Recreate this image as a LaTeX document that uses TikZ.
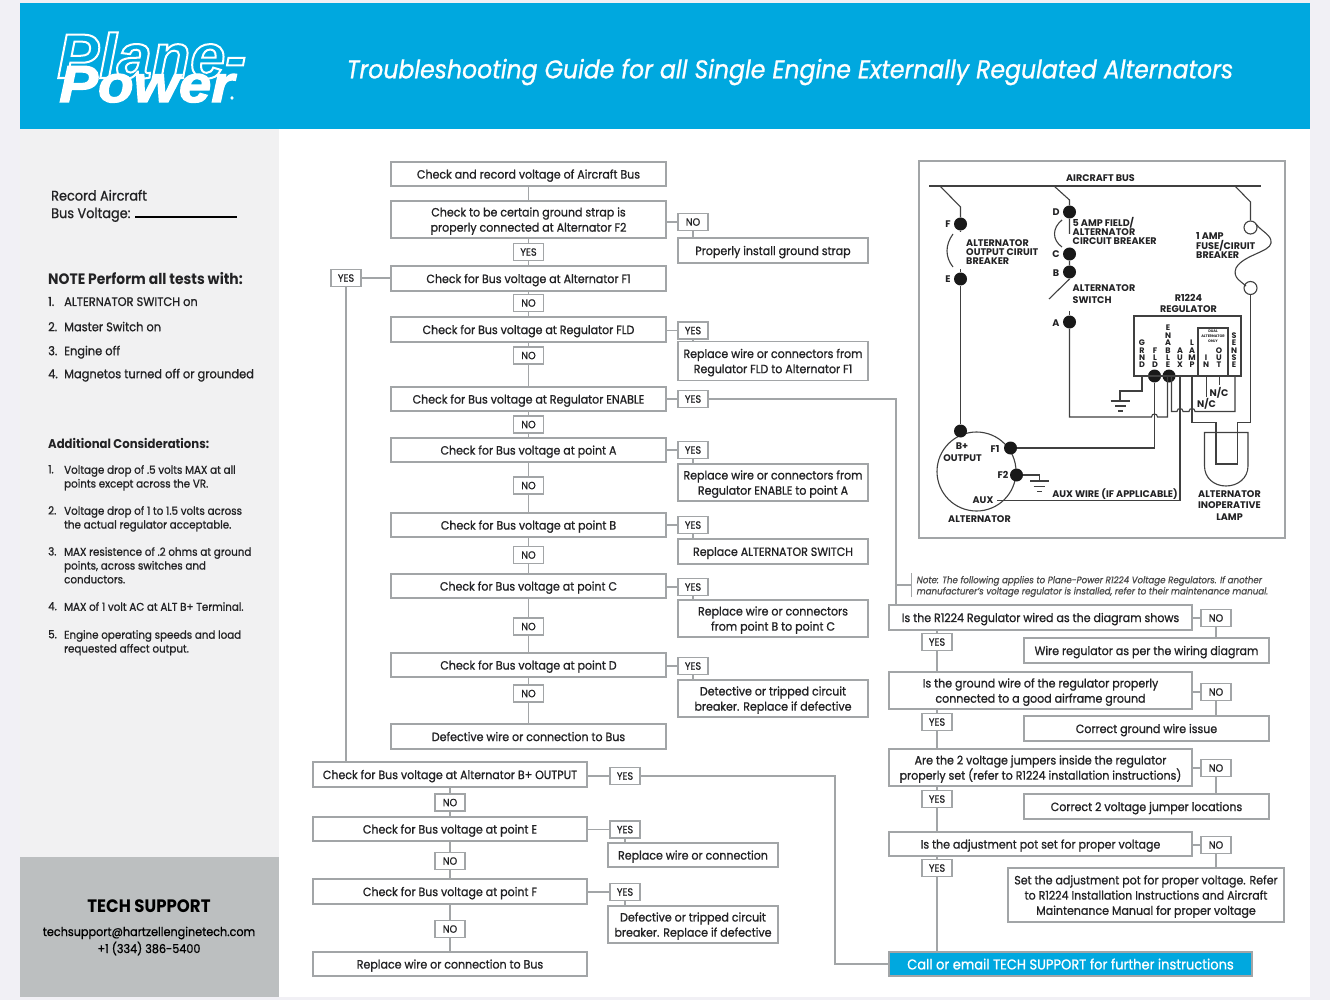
\documentclass[tikz,border=0pt]{standalone}
\usepackage{fontspec}
\setmainfont{Poppins}[FakeStretch=0.92,UprightFeatures={FakeBold=0.9},ItalicFeatures={FakeBold=0.9}]
\newfontfamily\wirefont{Poppins}
\newfontfamily\logofont{Liberation Sans}
\newfontfamily\logoheavy{Liberation Sans}[BoldItalicFeatures={FakeBold=2.6,FakeStretch=1.12}]
\definecolor{planeblue}{HTML}{00A8DF}
\definecolor{pagegray}{HTML}{F1F0F5}
\definecolor{sidegray}{HTML}{F1F1F2}
\definecolor{supportgray}{HTML}{BCBFC0}
\definecolor{boxline}{HTML}{A2A5A7}
\definecolor{inkdark}{HTML}{222224}
\tikzset{
  flowbox/.style={draw=boxline, line width=1.5pt, fill=white, align=center, inner sep=0pt, text depth=-0.5pt,
                  text=inkdark, font=\fontsize{12}{15.2}\selectfont},
  colA/.style={flowbox, minimum width=275pt},
  colB/.style={flowbox, minimum width=274pt},
  colC/.style={flowbox, minimum width=303pt},
  fixbox/.style={flowbox, minimum width=190pt},
  fixboxB/.style={flowbox, minimum width=170pt},
  fixboxC/.style={flowbox, minimum width=245pt},
  tagbox/.style={flowbox, minimum width=30pt, minimum height=17pt, text depth=0pt, font=\fontsize{10.5}{12}\selectfont},
  flowline/.style={draw=boxline, line width=1.5pt},
  sidetext/.style={anchor=west, align=left, inner sep=0pt, text=inkdark, text depth=0pt,
                   font=\fontsize{12.4}{17}\selectfont},
  smalltext/.style={anchor=north west, align=left, inner sep=0pt, text=inkdark,
                   font=\fontsize{11.2}{13.8}\selectfont},
  wire/.style={draw=black!75, line width=1.1pt},
  wdot/.style={circle, fill=black!90, minimum size=13pt, inner sep=0pt},
  wlabel/.style={inner sep=0pt, align=left, text=inkdark, font=\wirefont\bfseries\fontsize{9.6}{9.1}\selectfont},
  wletters/.style={inner sep=0pt, align=center, anchor=south, text=inkdark, font=\wirefont\bfseries\fontsize{8}{7.4}\selectfont},
}
\begin{document}
\begin{tikzpicture}[x=1pt, y=-1pt]
\useasboundingbox (0,0) rectangle (1330,1000);
%% page and header
\fill[pagegray] (0,0) rectangle (1330,1000);
\fill[white] (20,3) rectangle (1310,997);
\fill[planeblue] (20,3) rectangle (1310,129);
\fill[sidegray] (20,129) rectangle (279,857);
\fill[supportgray] (20,857) rectangle (279,997);
\node[anchor=base west, inner sep=0pt, font=\logofont\bfseries\itshape\fontsize{63}{63}\selectfont] (logoplane) at (57,78)
  {\special{pdf:code q 1 Tr 2 w 1 1 1 RG}Plane-\special{pdf:code Q}};
\node[anchor=base west, inner sep=0pt, text=white, font=\logoheavy\bfseries\itshape\fontsize{52}{52}\selectfont] (logopower) at (59,102) {Power};
\node[text=white, inner sep=0pt, font=\fontsize{7}{7}\selectfont] (logoreg) at (232,99) {®};
\node[text=white, inner sep=0pt, font=\itshape\fontsize{25.6}{30}\selectfont] (title) at (790,72)
  {Troubleshooting Guide for all Single Engine Externally Regulated Alternators};

%% sidebar
\node[sidetext, font=\fontsize{14}{17.5}\selectfont] (record) at (51,204) {Record Aircraft\\Bus Voltage:};
\draw[black, line width=1.1pt] (135,217) -- (237,217);
\node[sidetext, font=\bfseries\fontsize{15.1}{16}\selectfont] (note) at (48,278) {NOTE Perform all tests with:};
\node[sidetext] (n1) at (48,301.5) {\makebox[16pt][l]{1.}ALTERNATOR SWITCH on};
\node[sidetext] (n2) at (48,326.5) {\makebox[16pt][l]{2.}Master Switch on};
\node[sidetext] (n3) at (48,350.5) {\makebox[16pt][l]{3.}Engine off};
\node[sidetext] (n4) at (48,373.5) {\makebox[16pt][l]{4.}Magnetos turned off or grounded};
\node[sidetext, font=\bfseries\fontsize{12.7}{14}\selectfont] (addl) at (48,443) {Additional Considerations:};
\foreach \y/\n/\txt in {465/1/{Voltage drop of .5 volts MAX at all\\points except across the VR.},
    506/2/{Voltage drop of 1 to 1.5 volts across\\the actual regulator acceptable.},
    547/3/{MAX resistence of .2 ohms at ground\\points, across switches and\\conductors.},
    602/4/{MAX of 1 volt AC at ALT B+ Terminal.},
    630/5/{Engine operating speeds and load\\requested affect output.}} {
  \node[smalltext] (addnum\n) at (48,\y) {\n.};
  \node[smalltext] (addtxt\n) at (64,\y) {\txt};
}
\node[inner sep=0pt, text=black, font=\bfseries\fontsize{18}{20}\selectfont] (support) at (149,906) {TECH SUPPORT};
\node[inner sep=0pt, align=center, text=black, font=\fontsize{12.2}{17}\selectfont] (contact) at (149,941)
  {techsupport@hartzellenginetech.com\\+1 (334) 386-5400};

%% first column
\node[colA, minimum height=24pt] (a1) at (528.5,174) {Check and record voltage of Aircraft Bus};
\node[colA, minimum height=37pt] (a2) at (528.5,219.5) {Check to be certain ground strap is\\properly connected at Alternator F2};
\node[tagbox] (a2y) at (528.5,252) {YES};
\node[colA, minimum height=25pt] (a3) at (528.5,278.5) {Check for Bus voltage at Alternator F1};
\node[tagbox] (a3n) at (528.5,303) {NO};
\node[colA, minimum height=25pt] (a4) at (528.5,329.5) {Check for Bus voltage at Regulator FLD};
\node[tagbox] (a4n) at (528.5,355.5) {NO};
\node[colA, minimum height=24pt] (a5) at (528.5,399) {Check for Bus voltage at Regulator ENABLE};
\node[tagbox] (a5n) at (528.5,424.5) {NO};
\node[colA, minimum height=24pt] (a6) at (528.5,450) {Check for Bus voltage at point A};
\node[tagbox] (a6n) at (528.5,485.5) {NO};
\node[colA, minimum height=24pt] (a7) at (528.5,525) {Check for Bus voltage at point B};
\node[tagbox] (a7n) at (528.5,555) {NO};
\node[colA, minimum height=24pt] (a8) at (528.5,586) {Check for Bus voltage at point C};
\node[tagbox] (a8n) at (528.5,626.5) {NO};
\node[colA, minimum height=24pt] (a9) at (528.5,665) {Check for Bus voltage at point D};
\node[tagbox] (a9n) at (528.5,693.5) {NO};
\node[colA, minimum height=25pt] (a10) at (528.5,736.5) {Defective wire or connection to Bus};
\foreach \p/\q in {a1/a2,a2/a2y,a2y/a3,a3/a3n,a3n/a4,a4/a4n,a4n/a5,a5/a5n,a5n/a6,a6/a6n,a6n/a7,a7/a7n,a7n/a8,a8/a8n,a8n/a9,a9/a9n,a9n/a10} {
  \draw[flowline] (\p) -- (\q);
}
%% replies of first column
\node[tagbox] (r2) at (693,222) {NO};
\node[fixbox, minimum height=25pt] (f2) at (773,250.5) {Properly install ground strap};
\node[tagbox] (r4) at (693,330.5) {YES};
\node[fixbox, minimum height=39pt] (f4) at (773,361) {Replace wire or connectors from\\Regulator FLD to Alternator F1};
\node[tagbox] (r5) at (693,399) {YES};
\node[tagbox] (r6) at (693,450) {YES};
\node[fixbox, minimum height=37pt] (f6) at (773,482.5) {Replace wire or connectors from\\Regulator ENABLE to point A};
\node[tagbox] (r7) at (693,525) {YES};
\node[fixbox, minimum height=25pt] (f7) at (773,551.5) {Replace ALTERNATOR SWITCH};
\node[tagbox] (r8) at (693,587) {YES};
\node[fixbox, minimum height=37pt] (f8) at (773,618.5) {Replace wire or connectors\\from point B to point C};
\node[tagbox] (r9) at (693,666) {YES};
\node[fixbox, minimum height=37pt] (f9) at (773,698.5) {Detective or tripped circuit\\breaker. Replace if defective};
\foreach \t/\b in {r2/a2,r4/a4,r5/a5,r6/a6,r7/a7,r8/a8,r9/a9} {
  \draw[flowline] (\t.west) -- (\t.west -| \b.east);
}
\foreach \t/\f in {r2/f2,r4/f4,r6/f6,r7/f7,r8/f8,r9/f9} {
  \draw[flowline] (\t.south) -- (\t.south |- \f.north);
}
\node[tagbox] (r3) at (346,278) {YES};
\draw[flowline] (r3.east) -- (r3.east -| a3.west);

%% second column
\node[colB, minimum height=25pt] (b1) at (450,774.5) {Check for Bus voltage at Alternator B+ OUTPUT};
\node[tagbox] (b1n) at (450,802.5) {NO};
\node[colB, minimum height=24pt] (b2) at (450,829) {Check for Bus voltage at point E};
\node[tagbox] (b2n) at (450,861) {NO};
\node[colB, minimum height=25pt] (b3) at (450,891.5) {Check for Bus voltage at point F};
\node[tagbox] (b3n) at (450,929) {NO};
\node[colB, minimum height=24pt] (b4) at (450,964) {Replace wire or connection to Bus};
\foreach \p/\q in {b1/b1n,b1n/b2,b2/b2n,b2n/b3,b3/b3n,b3n/b4} {
  \draw[flowline] (\p) -- (\q);
}
\draw[flowline] (r3.south) -- (r3.south |- b1.north);
\node[tagbox] (s1) at (625,776) {YES};
\node[tagbox] (s2) at (625,829.5) {YES};
\node[fixboxB, minimum height=24pt] (g2) at (693,855) {Replace wire or connection};
\node[tagbox] (s3) at (625,892) {YES};
\node[fixboxB, minimum height=37pt] (g3) at (693,924.5) {Defective or tripped circuit\\breaker. Replace if defective};
\foreach \t/\b in {s1/b1,s2/b2,s3/b3} {
  \draw[flowline] (\t.west) -- (\t.west -| \b.east);
}
\foreach \t/\f in {s2/g2,s3/g3} {
  \draw[flowline] (\t.south) -- (\t.south |- \f.north);
}

%% third column
\node[colC, minimum height=25pt] (c1) at (1040.5,617.5) {Is the R1224 Regulator wired as the diagram shows};
\node[tagbox] (c1y) at (937,642) {YES};
\node[colC, minimum height=37pt] (c2) at (1040.5,690.5) {Is the ground wire of the regulator properly\\connected to a good airframe ground};
\node[tagbox] (c2y) at (937,722) {YES};
\node[colC, minimum height=37pt] (c3) at (1040.5,767.5) {Are the 2 voltage jumpers inside the regulator\\properly set (refer to R1224 installation instructions)};
\node[tagbox] (c3y) at (937,799) {YES};
\node[colC, minimum height=24pt] (c4) at (1040.5,844) {Is the adjustment pot set for proper voltage};
\node[tagbox] (c4y) at (937,868) {YES};
\node[flowbox, fill=planeblue, text=white, minimum width=363pt, minimum height=24pt, font=\fontsize{14.2}{16}\selectfont] (call) at (1070.5,964)
  {Call or email TECH SUPPORT for further instructions};
\foreach \p/\q in {c1/c1y,c2/c2y,c3/c3y,c4/c4y} {
  \draw[flowline] (\q.north) -- (\q.north |- \p.south);
}
\foreach \p/\q in {c1y/c2,c2y/c3,c3y/c4,c4y/call} {
  \draw[flowline] (\p.south) -- (\p.south |- \q.north);
}
\node[tagbox] (t1) at (1216,618) {NO};
\node[fixboxC, minimum height=25pt] (h1) at (1146.5,650.5) {Wire regulator as per the wiring diagram};
\node[tagbox] (t2) at (1216,692) {NO};
\node[fixboxC, minimum height=25pt] (h2) at (1146.5,728.5) {Correct ground wire issue};
\node[tagbox] (t3) at (1216,768) {NO};
\node[fixboxC, minimum height=25pt] (h3) at (1146.5,806.5) {Correct 2 voltage jumper locations};
\node[tagbox] (t4) at (1216,845) {NO};
\node[flowbox, minimum width=276pt, minimum height=54pt] (h4) at (1146,895)
  {Set the adjustment pot for proper voltage. Refer\\to R1224 Installation Instructions and Aircraft\\Maintenance Manual for proper voltage};
\foreach \t/\b/\f in {t1/c1/h1,t2/c2/h2,t3/c3/h3,t4/c4/h4} {
  \draw[flowline] (\t.west) -- (\t.west -| \b.east);
  \draw[flowline] (\t.south) -- (\t.south |- \f.north);
}
%% long runs and note
\coordinate (noterun) at (896,585);
\coordinate (noteend) at (911.5,585);
\coordinate (callrun) at (835,900);
\draw[flowline] (r5.east) -- (r5.east -| noterun) -- (noterun |- c1.north);
\draw[flowline] (noterun) -- (noteend);
\draw[flowline] (911.5,573) -- (911.5,597);
\draw[flowline] (s1.east) -- (s1.east -| callrun) -- (callrun |- call.west) -- (call.west);
\node[anchor=west, align=left, inner sep=0pt, text=black!70, font=\itshape\fontsize{9.45}{11.2}\selectfont] (noteline) at (916.5,586.5)
  {Note: The following applies to Plane-Power R1224 Voltage Regulators.  If another\\manufacturer’s voltage regulator is installed, refer to their maintenance manual.};

%% wiring frame
\draw[boxline, line width=1.5pt] (919,161) rectangle (1285,538);
\node[wlabel] (busname) at (1100.5,178) {AIRCRAFT BUS};
\coordinate (busL) at (929,186);
\coordinate (busR) at (1261,186);
\draw[wire] (busL) -- (busR);
\node[draw=black!75, line width=1.1pt, circle, minimum size=79pt, inner sep=0pt] (altbody) at (976.5,471.5) {};
\node[draw=black!75, line width=1.1pt, circle, minimum size=13pt, inner sep=0pt] (fuseT) at (1250.5,227.5) {};
\node[draw=black!75, line width=1.1pt, circle, minimum size=13pt, inner sep=0pt] (fuseB) at (1250.5,288) {};
\node[wdot] (dotF) at (960.5,224) {};
\node[wdot] (dotE) at (960.5,279) {};
\node[wdot] (dotBp) at (960.5,431) {};
\node[wdot] (dotD) at (1069.5,212) {};
\node[wdot] (dotC) at (1069.5,254) {};
\node[wdot] (dotB) at (1069.5,272) {};
\node[wdot] (dotA) at (1069.5,322) {};
\node[wdot] (dotFLD) at (1154.5,376) {};
\node[wdot] (dotEN) at (1169,376) {};
\node[wdot] (dotF1) at (1010.5,448) {};
\node[wdot] (dotF2) at (1016.5,475) {};
\draw[wire] (940,186) -- (960.5,207) -- (dotF) -- (960.5,232);
\draw[wire] (953,234) .. controls (945,245) and (945,257) .. (953,267);
\draw[wire] (960.5,269) -- (dotE) -- (dotBp);
\draw[wire] (1054,186) -- (1069.5,200) -- (dotD) -- (1069.5,234);
\draw[wire] (1062,220) .. controls (1052,228) and (1052,240) .. (1062,247);
\draw[wire] (dotC) -- (dotB) -- (1069.5,279) -- (1049,299);
\draw[wire] (1069.5,311) -- (dotA);
\draw[wire] (dotA) -- (1069.5,417) -- (1151.5,417) .. controls (1151.5,413) and (1157.5,413) .. (1157.5,417) -- (1167.5,417) -- (1167.5,376);
\draw[wire] (1235,186) -- (1250.5,202) -- (fuseT.north);
\draw[wire] (1256,224) .. controls (1262,232) and (1272,235) .. (1271,243) .. controls (1270,252) and (1243,255) .. (1236,268) .. controls (1232,278) and (1242,282) .. (1246,286);
\draw[wire] (fuseB.south) -- (1250.5,422.5) -- (1237.5,422.5) -- (1237.5,464) -- (1216,464) -- (1216,422.5) -- (1192,422.5) -- (1192,376);
\draw[wire] (dotFLD) -- (1154.5,448) -- (dotF1);
\draw[wire] (1171.5,376) -- (1171.5,411.5) -- (1177,411.5) .. controls (1177,407.5) and (1183,407.5) .. (1183,411.5) -- (1189,411.5) .. controls (1189,407.5) and (1195,407.5) .. (1195,411.5) -- (1235,411.5) -- (1235,376);
\draw[wire] (1180,376) -- (1180,500.5) -- (997,500.5);
\draw[wire] (1206.5,376) -- (1206.5,396.5);
\draw[wire] (1219.5,376) -- (1219.5,385);
%% grounds
\draw[wire] (1142,376) -- (1142,391) -- (1120,391) -- (1120,401);
\draw[wire] (1110.5,401) -- (1130,401) (1115,406) -- (1125.5,406) (1118,411) -- (1123,411);
\draw[wire] (dotF2) -- (1039.5,475) -- (1039.5,481);
\draw[wire] (1030,481) -- (1049,481) (1033.5,486.5) -- (1045,486.5) (1037,491.5) -- (1042,491.5);
%% regulator and lamp
\draw[wire, line width=1.3pt] (1134,376) -- (1134,316) -- (1241,316) -- (1241,376) -- cycle;
\draw[wire, line width=1.3pt] (1198,376) -- (1198,328) -- (1228,328) -- (1228,376);
\node[wlabel, align=center, font=\wirefont\bfseries\fontsize{3.6}{4.8}\selectfont] (dualalt) at (1213,336) {DUAL\\ALTERNATOR\\ONLY};
\draw[wire] (1204.5,432.5) -- (1204.5,466) .. controls (1204.5,478) and (1214,486) .. (1226,486) .. controls (1238,486) and (1248,478) .. (1248,466) -- (1248,432.5) -- cycle;
\foreach \xx/\ww/\lbl in {1142/grnd/{G\\R\\N\\D},1155/fld/{F\\L\\D},1168/enab/{E\\N\\A\\B\\L\\E},1180/aux/{A\\U\\X},1192/lamp/{L\\A\\M\\P},1206/in/{I\\N},1219/out/{O\\U\\T},1234/sens/{S\\E\\N\\S\\E}} {
  \node[wletters] (pin\ww) at (\xx,368) {\lbl};
}
%% wiring labels
\node[wlabel] (lblF) at (948,224) {F};
\node[wlabel] (lblE) at (948,279) {E};
\node[wlabel] (lblD) at (1056,212) {D};
\node[wlabel] (lblC) at (1056,254) {C};
\node[wlabel] (lblB) at (1056,273) {B};
\node[wlabel] (lblA) at (1056,323) {A};
\node[wlabel, anchor=west] (lblout) at (966,252) {ALTERNATOR\\OUTPUT CIRUIT\\BREAKER};
\node[wlabel, anchor=west] (lblfield) at (1072.5,231) {5 AMP FIELD/\\ALTERNATOR\\CIRCUIT BREAKER};
\node[wlabel, anchor=west] (lblfuse) at (1196,245.5) {1 AMP\\FUSE/CIRUIT\\BREAKER};
\node[wlabel, anchor=west, font=\wirefont\bfseries\fontsize{9.6}{12}\selectfont] (lblswitch) at (1072.5,294) {ALTERNATOR\\SWITCH};
\node[wlabel, align=center, font=\wirefont\bfseries\fontsize{9.6}{11.6}\selectfont] (lblreg) at (1188.5,303.5) {R1224\\REGULATOR};
\node[wlabel] (lblnc1) at (1219,393) {N/C};
\node[wlabel] (lblnc2) at (1206.5,404) {N/C};
\node[wlabel] (lblbp) at (962,446.5) {B+};
\node[wlabel] (lbloutput) at (962.5,458.5) {OUTPUT};
\node[wlabel] (lblf1) at (995,449) {F1};
\node[wlabel] (lblf2) at (1003,475) {F2};
\node[wlabel] (lblaux) at (983,500.5) {AUX};
\node[wlabel] (lblalt) at (979.5,519.5) {ALTERNATOR};
\node[wlabel] (lblauxw) at (1115,494.5) {AUX WIRE (IF APPLICABLE)};
\node[wlabel, align=center, font=\wirefont\bfseries\fontsize{9.6}{11.2}\selectfont] (lbllamp) at (1229.5,505.5) {ALTERNATOR\\INOPERATIVE\\LAMP};
\end{tikzpicture}
\end{document}
